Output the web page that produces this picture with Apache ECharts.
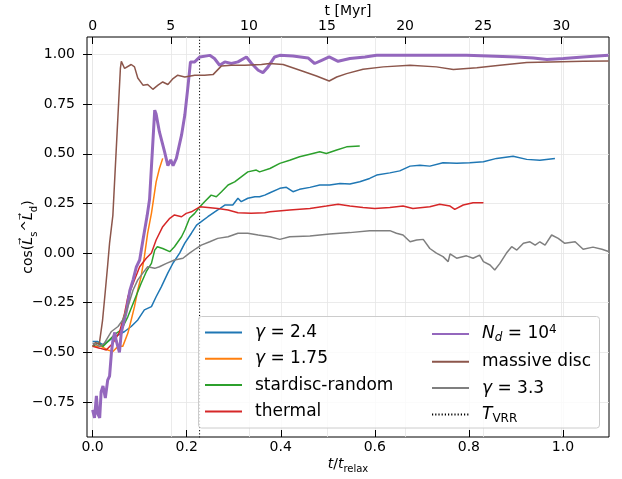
<!DOCTYPE html>
<html><head><meta charset="utf-8">
<script src="https://cdn.jsdelivr.net/npm/echarts@6/dist/echarts.min.js"></script>
<style>html,body{margin:0;padding:0;background:#fff}#c{width:622px;height:479px}</style>
</head><body><div id="c"></div>
<script>
// ---- data ----
const xTicks = [0, 0.2, 0.4, 0.6, 0.8, 1.0];
const topTicksMyr = [0, 5, 10, 15, 20, 25, 30];
const yTicks = [-0.75, -0.5, -0.25, 0, 0.25, 0.5, 0.75, 1.0];
const tRelaxMyr = 30.1;
const tVRR = 0.2274;
const seriesNames = ['γ = 2.4', 'γ = 1.75', 'stardisc-random', 'thermal', 'N_d = 10^4', 'massive disc', 'γ = 3.3', 'T_VRR'];

const gamma24 = [[0,-0.446],[0.011,-0.446],[0.022,-0.462],[0.032,-0.446],[0.047,-0.42],[0.057,-0.41],[0.068,-0.395],[0.082,-0.37],[0.096,-0.337],[0.110,-0.286],[0.125,-0.27],[0.135,-0.22],[0.146,-0.17],[0.160,-0.10],[0.171,-0.05],[0.185,0.0],[0.196,0.05],[0.210,0.10],[0.221,0.141],[0.231,0.158],[0.245,0.183],[0.266,0.217],[0.281,0.242],[0.298,0.242],[0.309,0.276],[0.316,0.259],[0.330,0.276],[0.345,0.284],[0.355,0.284],[0.366,0.292],[0.377,0.304],[0.398,0.326],[0.412,0.331],[0.426,0.309],[0.440,0.321],[0.462,0.331],[0.483,0.343],[0.504,0.343],[0.526,0.351],[0.547,0.348],[0.568,0.359],[0.589,0.376],[0.604,0.393],[0.632,0.404],[0.653,0.414],[0.675,0.438],[0.696,0.443],[0.717,0.438],[0.745,0.455],[0.774,0.452],[0.802,0.455],[0.831,0.46],[0.859,0.477],[0.894,0.488],[0.923,0.472],[0.951,0.468],[0.983,0.477]];
const gamma175 = [[0,-0.47],[0.018,-0.47],[0.032,-0.488],[0.043,-0.496],[0.054,-0.47],[0.064,-0.47],[0.075,-0.403],[0.082,-0.337],[0.089,-0.27],[0.096,-0.186],[0.103,-0.119],[0.110,-0.018],[0.117,0.10],[0.125,0.20],[0.135,0.359],[0.142,0.426],[0.149,0.477]];
const stardisc = [[0,-0.47],[0.011,-0.454],[0.022,-0.47],[0.032,-0.446],[0.047,-0.41],[0.061,-0.387],[0.075,-0.32],[0.089,-0.236],[0.103,-0.153],[0.114,-0.094],[0.125,-0.052],[0.132,0.015],[0.1375,0.032],[0.149,0.023],[0.164,0.007],[0.174,0.032],[0.189,0.082],[0.196,0.116],[0.206,0.175],[0.217,0.2],[0.228,0.233],[0.238,0.259],[0.252,0.292],[0.263,0.284],[0.274,0.309],[0.288,0.343],[0.302,0.359],[0.316,0.384],[0.330,0.409],[0.348,0.418],[0.355,0.409],[0.377,0.426],[0.398,0.452],[0.419,0.468],[0.440,0.485],[0.462,0.498],[0.483,0.51],[0.497,0.502],[0.519,0.519],[0.540,0.535],[0.568,0.54]];
const thermal = [[0,-0.47],[0.015,-0.479],[0.029,-0.488],[0.043,-0.454],[0.057,-0.40],[0.068,-0.303],[0.075,-0.219],[0.086,-0.153],[0.100,-0.069],[0.114,-0.026],[0.125,0.0],[0.135,0.066],[0.149,0.133],[0.164,0.175],[0.174,0.192],[0.189,0.183],[0.199,0.2],[0.210,0.208],[0.228,0.233],[0.245,0.23],[0.266,0.225],[0.288,0.217],[0.309,0.203],[0.337,0.2],[0.366,0.203],[0.377,0.208],[0.419,0.217],[0.462,0.225],[0.497,0.237],[0.522,0.246],[0.547,0.237],[0.575,0.23],[0.600,0.225],[0.632,0.23],[0.660,0.237],[0.681,0.225],[0.717,0.233],[0.738,0.246],[0.760,0.237],[0.770,0.22],[0.788,0.242],[0.809,0.254],[0.831,0.254]];
const nd1e4 = [[0,-0.79],[0.004,-0.83],[0.008,-0.72],[0.011,-0.81],[0.015,-0.83],[0.018,-0.70],[0.022,-0.67],[0.027,-0.73],[0.032,-0.64],[0.036,-0.62],[0.040,-0.50],[0.043,-0.44],[0.047,-0.40],[0.050,-0.44],[0.057,-0.50],[0.061,-0.40],[0.064,-0.37],[0.072,-0.29],[0.079,-0.19],[0.086,-0.135],[0.093,-0.07],[0.100,-0.035],[0.107,0.066],[0.116,0.19],[0.121,0.27],[0.132,0.72],[0.135,0.70],[0.142,0.61],[0.153,0.51],[0.160,0.44],[0.166,0.47],[0.171,0.44],[0.178,0.477],[0.189,0.594],[0.196,0.695],[0.203,0.846],[0.208,0.963],[0.217,0.963],[0.228,0.988],[0.249,0.996],[0.259,0.98],[0.270,0.946],[0.281,0.963],[0.295,0.955],[0.309,0.963],[0.327,0.988],[0.338,0.955],[0.352,0.921],[0.362,0.909],[0.373,0.938],[0.387,0.988],[0.398,0.996],[0.426,0.993],[0.458,0.983],[0.472,0.955],[0.487,0.971],[0.503,0.988],[0.522,0.966],[0.547,0.98],[0.579,0.988],[0.604,0.996],[0.689,0.996],[0.795,0.996],[0.902,0.988],[0.937,0.983],[0.966,0.975],[1.001,0.98],[1.043,0.988],[1.097,0.996]];
const massiveDisc = [[0,-0.47],[0.006,-0.45],[0.014,-0.46],[0.021,-0.34],[0.027,-0.19],[0.032,-0.06],[0.036,0.05],[0.043,0.19],[0.059,0.93],[0.061,0.966],[0.068,0.93],[0.082,0.95],[0.089,0.938],[0.096,0.882],[0.107,0.846],[0.117,0.849],[0.128,0.825],[0.139,0.846],[0.149,0.862],[0.160,0.849],[0.171,0.879],[0.181,0.896],[0.196,0.887],[0.217,0.896],[0.238,0.896],[0.256,0.899],[0.274,0.943],[0.295,0.946],[0.323,0.946],[0.359,0.95],[0.376,0.955],[0.405,0.95],[0.447,0.916],[0.476,0.892],[0.503,0.867],[0.519,0.887],[0.540,0.904],[0.575,0.926],[0.618,0.938],[0.675,0.946],[0.731,0.938],[0.767,0.925],[0.817,0.933],[0.866,0.946],[0.923,0.96],[0.973,0.963],[1.043,0.966],[1.097,0.968]];
const gamma33 = [[0,-0.454],[0.015,-0.47],[0.025,-0.454],[0.040,-0.395],[0.054,-0.37],[0.064,-0.337],[0.075,-0.27],[0.086,-0.186],[0.096,-0.135],[0.107,-0.10],[0.117,-0.069],[0.132,-0.077],[0.142,-0.069],[0.157,-0.052],[0.174,-0.035],[0.192,-0.026],[0.206,0.0],[0.220,0.023],[0.231,0.04],[0.249,0.057],[0.266,0.074],[0.288,0.082],[0.309,0.1],[0.330,0.1],[0.352,0.091],[0.366,0.086],[0.377,0.082],[0.398,0.069],[0.419,0.082],[0.462,0.086],[0.504,0.096],[0.547,0.103],[0.589,0.113],[0.632,0.113],[0.646,0.1],[0.660,0.091],[0.675,0.057],[0.689,0.066],[0.703,0.069],[0.717,0.023],[0.731,0.0],[0.745,-0.018],[0.756,-0.043],[0.760,-0.004],[0.774,-0.026],[0.795,-0.014],[0.809,-0.026],[0.823,-0.01],[0.831,-0.043],[0.845,-0.06],[0.855,-0.085],[0.866,-0.052],[0.880,0.0],[0.891,0.032],[0.902,0.015],[0.916,0.049],[0.930,0.057],[0.941,0.04],[0.951,0.057],[0.962,0.04],[0.976,0.091],[0.990,0.074],[1.004,0.049],[1.026,0.057],[1.043,0.019],[1.064,0.03],[1.083,0.019],[1.097,0.008]];
const vrrLine = [[tVRR, -0.93], [tVRR, 1.09]];

const xRange = [-0.012, 1.098];
const yRange = [-0.9266, 1.0885];

// ---- chart ----
const FONT = 'DejaVu Sans';
const colors = ['#1f77b4', '#ff7f0e', '#2ca02c', '#d62728', '#9467bd', '#8c564b', '#7f7f7f', '#000000'];
const allData = [gamma24, gamma175, stardisc, thermal, nd1e4, massiveDisc, gamma33, vrrLine];
const legendRich = {
  n: { fontFamily: FONT, fontSize: 17, lineHeight: 20, color: '#000' },
  i: { fontFamily: FONT, fontSize: 17, lineHeight: 20, fontStyle: 'italic', color: '#000' },
  sub: { fontFamily: FONT, fontSize: 12, lineHeight: 10, fontStyle: 'italic', verticalAlign: 'bottom', color: '#000' },
  subr: { fontFamily: FONT, fontSize: 12, lineHeight: 10, verticalAlign: 'bottom', color: '#000' },
  sup: { fontFamily: FONT, fontSize: 12, lineHeight: 10, verticalAlign: 'top', color: '#000' }
};
const legendLabels = {
  'γ = 2.4': '{i|γ}{n| = 2.4}',
  'γ = 1.75': '{i|γ}{n| = 1.75}',
  'stardisc-random': '{n|stardisc-random}',
  'thermal': '{n|thermal}',
  'N_d = 10^4': '{i|N}{sub|d}{n| = 10}{sup|4}',
  'massive disc': '{n|massive disc}',
  'γ = 3.3': '{i|γ}{n| = 3.3}',
  'T_VRR': '{i|T}{subr|VRR}'
};

const series = seriesNames.map((name, k) => ({
  name: name,
  type: 'line',
  data: allData[k],
  xAxisIndex: 0,
  yAxisIndex: 0,
  symbol: 'none',
  showSymbol: false,
  smooth: false,
  z: name === 'T_VRR' ? 1 : 2 + k,
  lineStyle: {
    color: colors[k],
    width: name === 'N_d = 10^4' ? 3 : (name === 'T_VRR' ? 1 : 1.5),
    type: name === 'T_VRR' ? [1.2, 2] : 'solid'
  },
  itemStyle: { color: colors[k] },
  emphasis: { disabled: true }
}));

const gridColor = '#e6e6e6';
const tickColor = '#000';
const fmtY = v => (v < 0 ? '\u2212' : '') + Math.abs(v).toFixed(2);
const fmtX = v => v.toFixed(1);

const legendCommon = {
  orient: 'vertical',
  itemWidth: 37,
  itemHeight: 20,
  itemGap: 9.3,
  padding: 0,
  selectedMode: false,
  itemStyle: { opacity: 0 },
  lineStyle: { opacity: 1 },
  textStyle: { rich: legendRich, padding: [0, 0, 0, 8] },
  formatter: name => legendLabels[name]
};

const option = {
  animation: false,
  backgroundColor: '#fff',
  grid: { left: 87, right: 13, top: 37, bottom: 42, show: true, borderColor: '#000', borderWidth: 1, backgroundColor: 'transparent', outerBoundsMode: 'none', containLabel: false },
  xAxis: [
    {
      type: 'value', position: 'bottom', min: xRange[0], max: xRange[1],
      axisLine: { show: false, onZero: false },
      axisTick: { show: true, inside: true, length: 7, customValues: xTicks, lineStyle: { color: tickColor, width: 1 } },
      axisLabel: { customValues: xTicks, formatter: fmtX, margin: 3, fontFamily: FONT, fontSize: 14, color: '#000' },
      splitLine: { show: true, lineStyle: { color: gridColor, width: 0.8 } },
      name: '{i|t}{n|/}{i|t}{sub|relax}', nameLocation: 'middle', nameGap: 17, nameMoveOverlap: false,
      nameTextStyle: { rich: {
        n: { fontFamily: FONT, fontSize: 14, lineHeight: 20, color: '#000' },
        i: { fontFamily: FONT, fontSize: 14, lineHeight: 20, fontStyle: 'italic', color: '#000' },
        sub: { fontFamily: FONT, fontSize: 10, lineHeight: 10, verticalAlign: 'bottom', color: '#000' }
      } }
    },
    {
      type: 'value', position: 'top', min: xRange[0] * tRelaxMyr, max: xRange[1] * tRelaxMyr,
      axisLine: { show: false, onZero: false },
      axisTick: { show: true, inside: true, length: 7, customValues: topTicksMyr, lineStyle: { color: tickColor, width: 1 } },
      axisLabel: { customValues: topTicksMyr, formatter: v => String(Math.round(v)), margin: 4, fontFamily: FONT, fontSize: 14, color: '#000' },
      splitLine: { show: true, lineStyle: { color: gridColor, width: 0.8 } },
      name: 't [Myr]', nameLocation: 'middle', nameGap: 19, nameMoveOverlap: false,
      nameTextStyle: { fontFamily: FONT, fontSize: 14, color: '#000' }
    }
  ],
  yAxis: [
    {
      type: 'value', position: 'left', min: yRange[0], max: yRange[1],
      axisLine: { show: false, onZero: false },
      axisTick: { show: true, inside: false, length: 4, customValues: yTicks, lineStyle: { color: tickColor, width: 1 } },
      axisLabel: { customValues: yTicks, formatter: fmtY, margin: 12, fontFamily: FONT, fontSize: 14, color: '#000' },
      splitLine: { show: true, lineStyle: { color: gridColor, width: 0.8 } },
      name: '{n|cos(}{i|L\u20D7}{sub|s}{n|^}{i|L\u20D7}{sub|d}{n|)}', nameLocation: 'middle', nameGap: 48, nameRotate: 90, nameMoveOverlap: false,
      nameTextStyle: { rich: {
        n: { fontFamily: FONT, fontSize: 14, lineHeight: 22, color: '#000' },
        i: { fontFamily: FONT, fontSize: 14, lineHeight: 22, fontStyle: 'italic', color: '#000' },
        sub: { fontFamily: FONT, fontSize: 10, lineHeight: 12, verticalAlign: 'bottom', color: '#000' }
      } }
    },
    {
      type: 'value', position: 'left', min: yRange[0], max: yRange[1],
      axisLine: { show: false, onZero: false },
      axisTick: { show: true, inside: true, length: 5, customValues: yTicks, lineStyle: { color: tickColor, width: 1 } },
      axisLabel: { show: false },
      splitLine: { show: false }
    }
  ],
  legend: [
    Object.assign({}, legendCommon, { left: 204, top: 324, data: seriesNames.slice(0, 4) }),
    Object.assign({}, legendCommon, { left: 431, top: 324, data: seriesNames.slice(4, 8) })
  ],
  graphic: [
    { type: 'rect', z: 3, shape: { x: 198.5, y: 316.5, width: 401, height: 111.5, r: 3 },
      style: { fill: 'rgba(255,255,255,0.8)', stroke: '#cccccc', lineWidth: 1 } }
  ],
  series: series
};

const chart = echarts.init(document.getElementById('c'), null, { renderer: 'canvas' });
chart.setOption(option);
</script>
</body></html>
